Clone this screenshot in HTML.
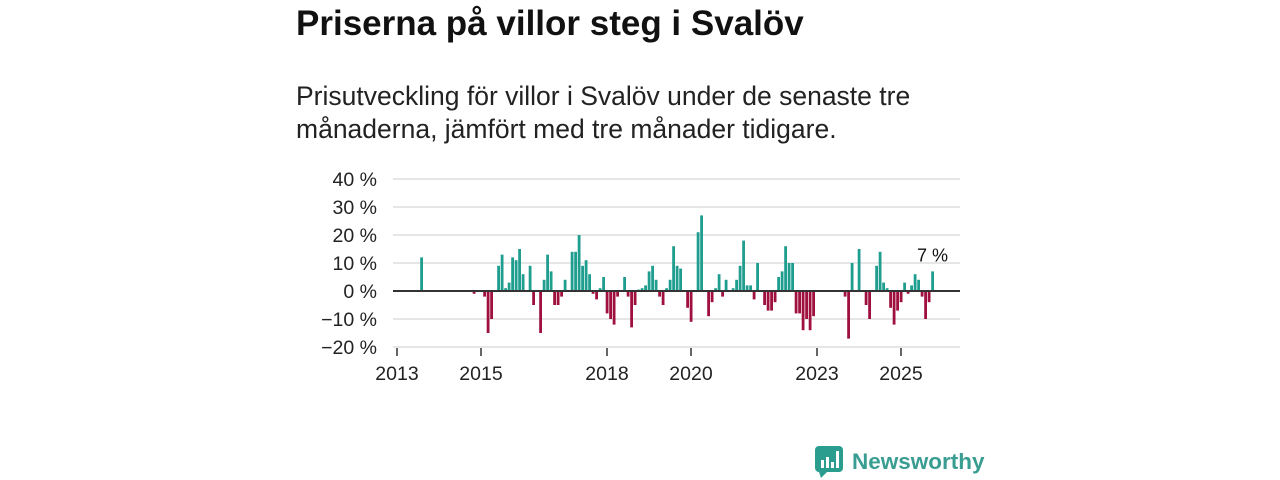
<!DOCTYPE html>
<html><head><meta charset="utf-8"><style>
body{margin:0;width:1280px;height:480px;background:#fff;font-family:"Liberation Sans","DejaVu Sans",sans-serif;overflow:hidden;position:relative;color:#111}
#title{position:absolute;left:296px;top:4px;font-size:35px;font-weight:bold;margin:0}
#sub{position:absolute;left:296px;top:80px;font-size:26.5px;line-height:33px;color:#222}
svg{position:absolute;left:0;top:0}
</style></head><body>
<h1 id="title">Priserna på villor steg i Svalöv</h1>
<div id="sub">Prisutveckling för villor i Svalöv under de senaste tre<br>månaderna, jämfört med tre månader tidigare.</div>
<svg id="chart" width="1280" height="480"></svg>
<div style="position:absolute;left:815px;top:446px;display:flex;align-items:center">
<svg width="28" height="32" style="position:relative"><rect x="0" y="0" width="28" height="26" rx="4" fill="#2a9d8f"/><polygon points="4,26 12,26 6,32" fill="#2a9d8f"/><rect x="6" y="14" width="3" height="8" fill="#fff"/><rect x="11" y="11" width="3" height="11" fill="#fff"/><rect x="16" y="16" width="3" height="6" fill="#fff"/><rect x="21" y="5" width="3" height="17" fill="#fff"/></svg>
<span style="font-size:22.5px;font-weight:bold;color:#3a9d92;margin-left:9px">Newsworthy</span></div>
<script>
const yTicks=[40,30,20,10,0,-10,-20];
const xYears=[2013,2015,2018,2020,2023,2025];
const months=[7,22,25,26,27,29,30,31,32,33,34,35,36,38,39,41,42,43,44,45,46,47,48,50,51,52,53,54,55,56,57,58,59,60,61,62,63,65,66,67,68,69,70,71,72,73,74,75,76,77,78,79,80,81,83,84,86,87,89,90,91,92,93,94,96,97,98,99,100,101,102,103,105,106,107,108,109,110,111,112,113,114,115,116,117,118,119,128,129,130,132,134,135,137,138,139,140,141,142,143,144,145,146,147,148,149,150,151,152,153];
const values=[12,-1,-2,-15,-10,9,13,1,3,12,11,15,6,9,-5,-15,4,13,7,-5,-5,-2,4,14,14,20,9,11,6,-1,-3,1,5,-8,-10,-12,-2,5,-2,-13,-5,0.5,1,2,7,9,4,-2,-5,1,4,16,9,8,-6,-11,21,27,-9,-4,1,6,-2,4,1,4,9,18,2,2,-3,10,-5,-7,-7,-4,5,7,16,10,10,-8,-8,-14,-10,-14,-9,-2,-17,10,15,-5,-10,9,14,3,1,-6,-12,-7,-4,3,-1,2,6,4,-2,-10,-4,7];
const lastLabel="7 %";
const ns="http://www.w3.org/2000/svg";
const svg=document.getElementById('chart');
const X0=393,X1=960;
const x=m=>397+m*3.5;
const y=v=>291-v*2.8;
function el(t,a){const e=document.createElementNS(ns,t);for(const k in a)e.setAttribute(k,a[k]);svg.appendChild(e);return e;}
yTicks.forEach(t=>{
 if(t!==0){const g=el('line',{x1:X0,x2:X1,y1:y(t),y2:y(t),stroke:'#ddd','stroke-width':1.5});
 
 }
 const l=el('text',{x:377,y:y(t)+7,'text-anchor':'end','font-size':19.5,fill:'#222','font-family':'Liberation Sans, sans-serif'});
 l.textContent=(t<0?'\u2212'+(-t):t)+' %';
 
 
});
xYears.forEach(yr=>{
 const xx=x((yr-2013)*12);
 const t=el('line',{x1:xx,x2:xx,y1:348,y2:356,stroke:'#333','stroke-width':1.5});
 
 
 const l=el('text',{x:xx,y:380,'text-anchor':'middle','font-size':19.5,fill:'#222','font-family':'Liberation Sans, sans-serif'});
 l.textContent=yr;
 
 
});
months.forEach((m,i)=>{
 const v=values[i];
 const r=el('rect',{x:x(m)-1.3,width:2.8,y:Math.min(y(v),y(0)),height:Math.abs(y(v)-y(0)),fill:v>=0?'#1f9e8f':'#a0103f'});
 
 
});
const base=el('line',{x1:X0,x2:X1,y1:y(0),y2:y(0),stroke:'#333','stroke-width':2});


const li=months.length-1;
const lab=el('text',{x:x(months[li]),y:y(values[li])-10,'text-anchor':'middle','font-size':18,fill:'#111','font-family':'Liberation Sans, sans-serif'});
lab.textContent=lastLabel;


</script>
</body></html>
